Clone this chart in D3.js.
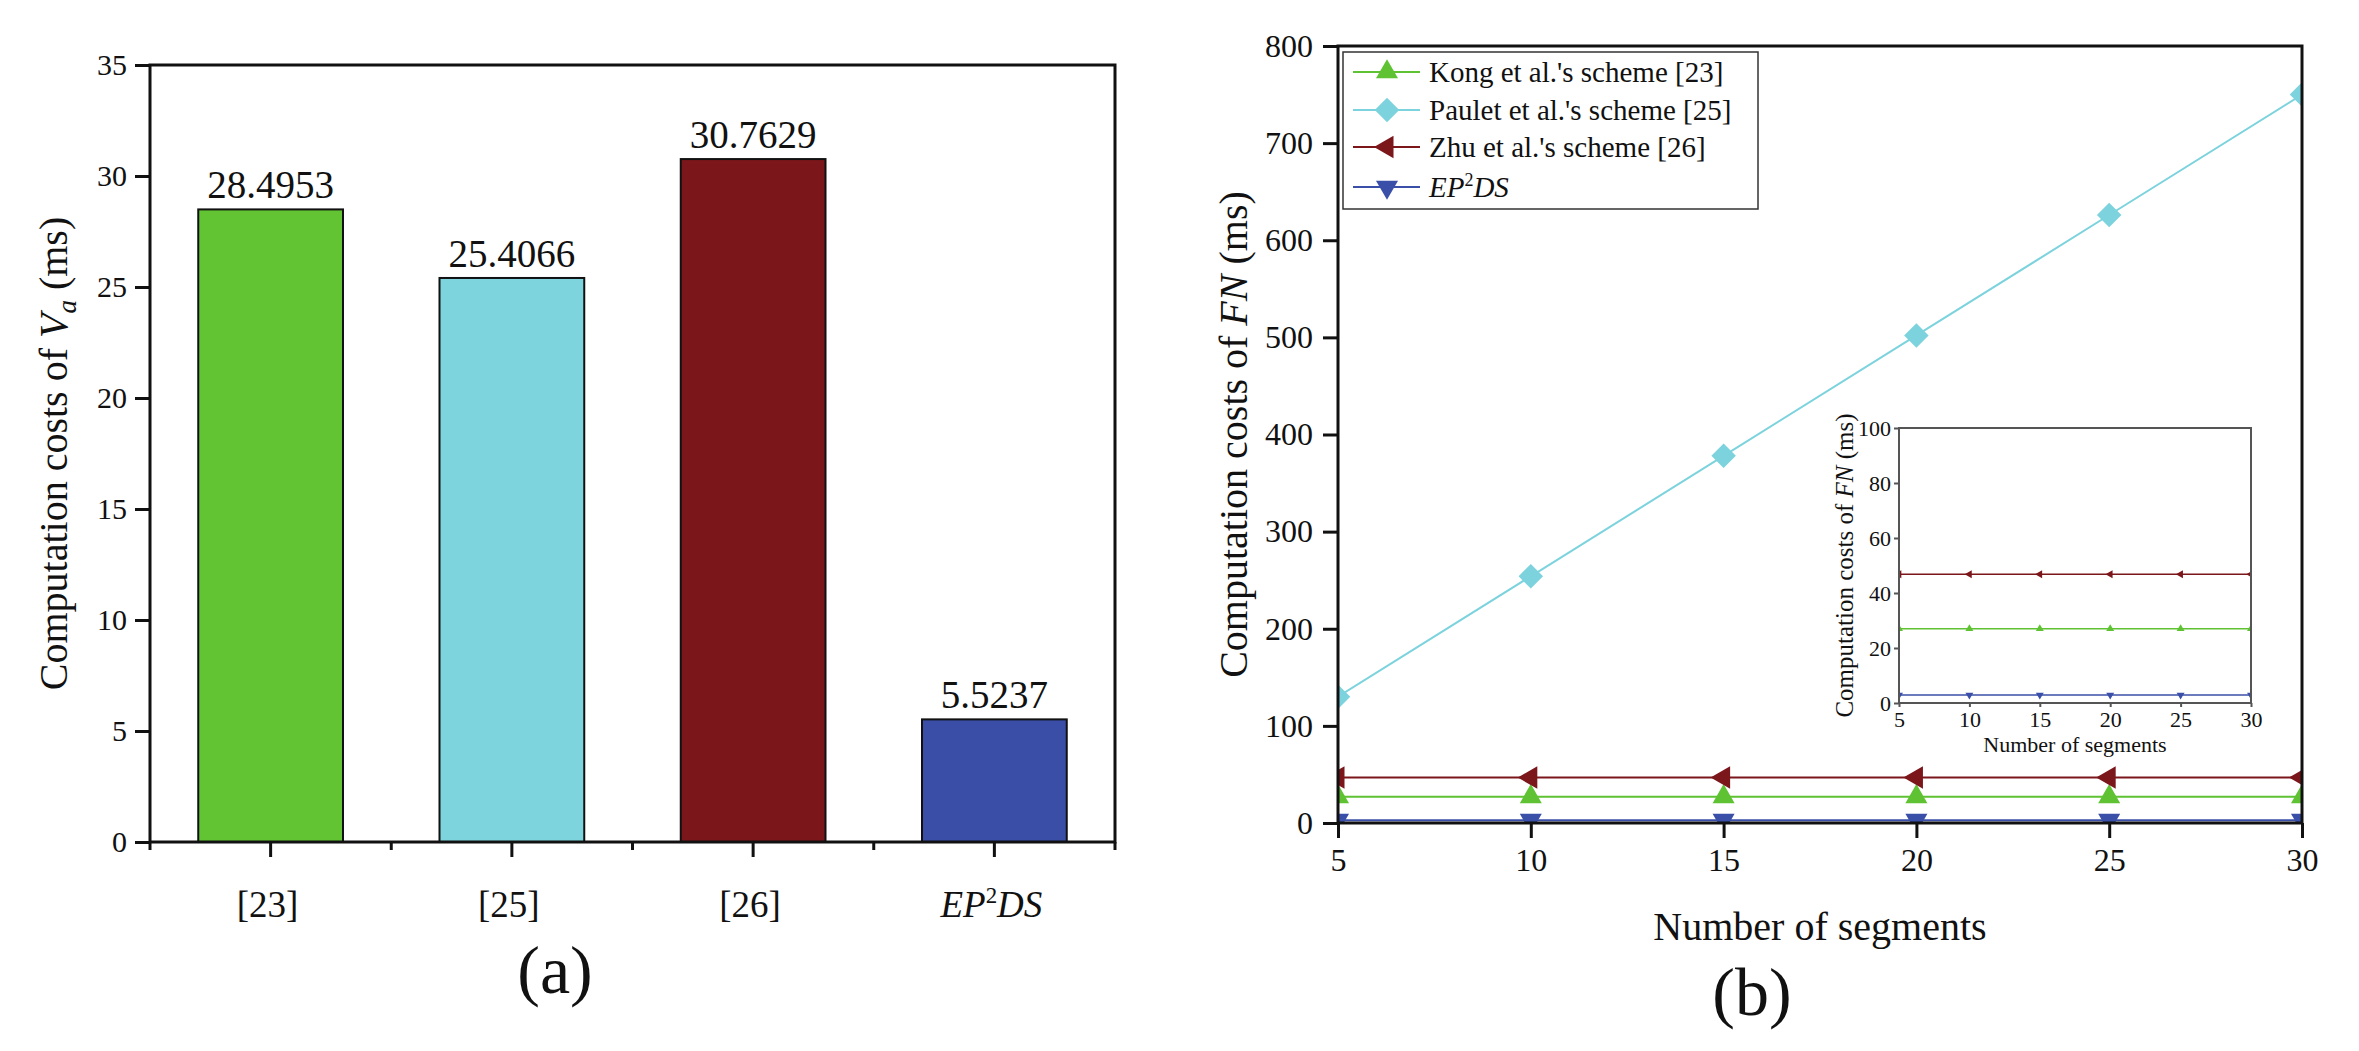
<!DOCTYPE html>
<html>
<head>
<meta charset="utf-8">
<script src="https://cdn.jsdelivr.net/npm/d3@7"></script>
<style>
  html, body { margin: 0; padding: 0; background: #fff; }
  svg { display: block; }
  svg text { font-family: "Liberation Serif", "Times New Roman", serif; fill: #111; }
</style>
</head>
<body>
<svg id="chart" width="2359" height="1051"></svg>
<script>
// ---------- data ----------
const barCategories = ["[23]", "[25]", "[26]", "EP2DS"];
const barValues = [28.4953, 25.4066, 30.7629, 5.5237];
const barLabels = ["28.4953", "25.4066", "30.7629", "5.5237"];
const barColors = ["#62c333", "#7dd4dc", "#7b161b", "#3a4ea8"];
const barYTicks = [0, 5, 10, 15, 20, 25, 30, 35];

const segments = [5, 10, 15, 20, 25, 30];
const kongCosts = [27.0, 27.0, 27.0, 27.0, 27.0, 27.0];
const pauletCosts = [130, 254, 378, 502, 626, 750];
const zhuCosts = [46.8, 46.8, 46.8, 46.8, 46.8, 46.8];
const ep2dsCosts = [2.9, 2.9, 2.9, 2.9, 2.9, 2.9];
const seriesNames = ["Kong et al.'s scheme [23]", "Paulet et al.'s scheme [25]", "Zhu et al.'s scheme [26]", "EP2DS"];
const seriesColors = ["#5ec232", "#7cd3dd", "#7b161b", "#3a4fa8"];
const lineYTicks = [0, 100, 200, 300, 400, 500, 600, 700, 800];
const lineXTicks = [5, 10, 15, 20, 25, 30];
const insetYTicks = [0, 20, 40, 60, 80, 100];

const seriesValues = [kongCosts, pauletCosts, zhuCosts, ep2dsCosts];

const svg = d3.select("#chart");
const FONT = '"Liberation Serif", "Times New Roman", serif';

function symbolPath(kind, scale) {
  const s = scale || 1;
  if (kind === "up") return { d: d3.symbol(d3.symbolTriangle, 210 * s * s)(), rot: 0 };
  if (kind === "diamond") return { d: d3.symbol(d3.symbolSquare, 300 * s * s)(), rot: 45 };
  if (kind === "left") return { d: d3.symbol(d3.symbolTriangle, 220 * s * s)(), rot: -90 };
  return { d: d3.symbol(d3.symbolTriangle, 210 * s * s)(), rot: 180 };
}
const seriesSymbols = ["up", "diamond", "left", "down"];

function ep2ds(sel, size) {
  sel.append("tspan").attr("font-style", "italic").text("EP");
  sel.append("tspan").attr("font-size", size * 0.62).attr("dy", -size * 0.38).text("2");
  sel.append("tspan").attr("font-style", "italic").attr("dy", size * 0.38).text("DS");
}

// ================= (a) bar chart =================
{
  const L = 150, R = 1115, T = 65, B = 842;
  const x = d3.scaleBand().domain(barCategories).range([L, R]).paddingInner(0.4).paddingOuter(0.2);
  const y = d3.scaleLinear().domain([0, 35]).range([B, T]);
  const g = svg.append("g").attr("font-family", FONT);

  g.selectAll("rect.bar").data(barValues).enter().append("rect")
    .attr("class", "bar")
    .attr("x", (d, i) => x(barCategories[i]))
    .attr("y", d => y(d))
    .attr("width", x.bandwidth())
    .attr("height", d => y(0) - y(d))
    .attr("fill", (d, i) => barColors[i])
    .attr("stroke", "#111").attr("stroke-width", 2);

  g.selectAll("text.val").data(barValues).enter().append("text")
    .attr("class", "val")
    .attr("x", (d, i) => x(barCategories[i]) + x.bandwidth() / 2)
    .attr("y", d => y(d) - 11)
    .attr("text-anchor", "middle")
    .attr("font-size", 39)
    .text((d, i) => barLabels[i]);

  const ya = g.append("g").attr("transform", `translate(${L},0)`)
    .call(d3.axisLeft(y).tickValues(barYTicks).tickSize(15).tickPadding(8).tickFormat(d3.format("d")));
  ya.attr("font-family", FONT);
  ya.select(".domain").remove();
  ya.selectAll(".tick line").attr("stroke", "#111").attr("stroke-width", 3);
  ya.selectAll(".tick text").attr("font-size", 30).attr("font-family", FONT).attr("fill", "#111");

  const xa = g.append("g").attr("transform", `translate(0,${B})`)
    .call(d3.axisBottom(x).tickSize(15).tickPadding(34).tickFormat(""));
  xa.select(".domain").remove();
  xa.selectAll(".tick line").attr("stroke", "#111").attr("stroke-width", 3);
  const step = x.step();
  const bounds = barCategories.map(c => x(c) + x.bandwidth() / 2 - step / 2)
    .concat([x(barCategories[barCategories.length - 1]) + x.bandwidth() / 2 + step / 2]);
  g.selectAll("line.minor").data(bounds).enter().append("line")
    .attr("x1", d => d).attr("x2", d => d).attr("y1", B).attr("y2", B + 8)
    .attr("stroke", "#111").attr("stroke-width", 3);

  barCategories.forEach((c, i) => {
    const t = g.append("text")
      .attr("x", x(c) + x.bandwidth() / 2 - 3)
      .attr("y", 917)
      .attr("text-anchor", "middle")
      .attr("font-size", 37);
    if (c === "EP2DS") ep2ds(t, 37); else t.text(c);
  });

  g.append("rect").attr("x", L).attr("y", T).attr("width", R - L).attr("height", B - T)
    .attr("fill", "none").attr("stroke", "#111").attr("stroke-width", 3);

  const yt = g.append("text")
    .attr("transform", `translate(67,${(T + B) / 2}) rotate(-90)`)
    .attr("text-anchor", "middle").attr("font-size", 40);
  yt.append("tspan").text("Computation costs of ");
  yt.append("tspan").attr("font-style", "italic").text("V");
  yt.append("tspan").attr("font-style", "italic").attr("font-size", 27).attr("dy", 9).text("a");
  yt.append("tspan").attr("dy", -9).text(" (ms)");

  g.append("text").attr("x", 555).attr("y", 993).attr("text-anchor", "middle")
    .attr("font-size", 68).text("(a)");
}

// ================= (b) line chart =================
{
  const L = 1338, R = 2302, T = 46, B = 823;
  const x = d3.scaleLinear().domain([5, 30]).range([L, R]);
  const y = d3.scaleLinear().domain([0, 800]).range([B, T]);
  const g = svg.append("g").attr("font-family", FONT);

  const defs = svg.append("defs");
  defs.append("clipPath").attr("id", "clipMain").append("rect")
    .attr("x", L).attr("y", T).attr("width", R - L).attr("height", B - T);

  const plot = g.append("g").attr("clip-path", "url(#clipMain)");
  const line = d3.line().x((d, i) => x(segments[i])).y(d => y(d));

  seriesValues.forEach((vals, si) => {
    plot.append("path").attr("d", line(vals))
      .attr("fill", "none").attr("stroke", seriesColors[si]).attr("stroke-width", 2);
  });
  seriesValues.forEach((vals, si) => {
    const sym = symbolPath(seriesSymbols[si], 1);
    plot.selectAll(null).data(vals).enter().append("path")
      .attr("d", sym.d)
      .attr("transform", (d, i) => `translate(${x(segments[i])},${y(d)}) rotate(${sym.rot})`)
      .attr("fill", seriesColors[si]);
  });

  const ya = g.append("g").attr("transform", `translate(${L},0)`)
    .call(d3.axisLeft(y).tickValues(lineYTicks).tickSize(15).tickPadding(10).tickFormat(d3.format("d")));
  ya.attr("font-family", FONT);
  ya.select(".domain").remove();
  ya.selectAll(".tick line").attr("stroke", "#111").attr("stroke-width", 3);
  ya.selectAll(".tick text").attr("font-size", 32).attr("font-family", FONT).attr("fill", "#111");

  const xa = g.append("g").attr("transform", `translate(0,${B})`)
    .call(d3.axisBottom(x).tickValues(lineXTicks).tickSize(15).tickPadding(10).tickFormat(d3.format("d")));
  xa.attr("font-family", FONT);
  xa.select(".domain").remove();
  xa.selectAll(".tick line").attr("stroke", "#111").attr("stroke-width", 3);
  xa.selectAll(".tick text").attr("font-size", 32).attr("font-family", FONT).attr("fill", "#111");

  g.append("rect").attr("x", L).attr("y", T).attr("width", R - L).attr("height", B - T)
    .attr("fill", "none").attr("stroke", "#111").attr("stroke-width", 3);

  const yt = g.append("text")
    .attr("transform", `translate(1247,${(T + B) / 2}) rotate(-90)`)
    .attr("text-anchor", "middle").attr("font-size", 40);
  yt.append("tspan").text("Computation costs of ");
  yt.append("tspan").attr("font-style", "italic").text("FN");
  yt.append("tspan").text(" (ms)");

  g.append("text").attr("x", (L + R) / 2).attr("y", 940).attr("text-anchor", "middle")
    .attr("font-size", 40).text("Number of segments");

  g.append("text").attr("x", 1752).attr("y", 1015).attr("text-anchor", "middle")
    .attr("font-size", 68).text("(b)");

  const lg = g.append("g");
  lg.append("rect").attr("x", 1343).attr("y", 52).attr("width", 415).attr("height", 157)
    .attr("fill", "#fff").attr("stroke", "#333").attr("stroke-width", 1.5);
  const rowY = [72, 110, 147, 187];
  seriesNames.forEach((name, si) => {
    const yy = rowY[si];
    lg.append("line").attr("x1", 1353).attr("x2", 1420).attr("y1", yy).attr("y2", yy)
      .attr("stroke", seriesColors[si]).attr("stroke-width", 2);
    const sym = symbolPath(seriesSymbols[si], 1);
    lg.append("path").attr("d", sym.d)
      .attr("transform", `translate(1387,${yy}) rotate(${sym.rot})`)
      .attr("fill", seriesColors[si]);
    const t = lg.append("text").attr("x", 1429).attr("y", yy + 10).attr("font-size", 29);
    if (name === "EP2DS") ep2ds(t, 29); else t.text(name);
  });

  // inset
  const iL = 1899, iR = 2251, iT = 428, iB = 703;
  const ix = d3.scaleLinear().domain([5, 30]).range([iL, iR]);
  const iy = d3.scaleLinear().domain([0, 100]).range([iB, iT]);
  const ig = svg.append("g").attr("font-family", FONT);
  ig.append("rect").attr("x", iL).attr("y", iT).attr("width", iR - iL).attr("height", iB - iT)
    .attr("fill", "#fff");
  defs.append("clipPath").attr("id", "clipInset").append("rect")
    .attr("x", iL).attr("y", iT).attr("width", iR - iL).attr("height", iB - iT);
  const iplot = ig.append("g").attr("clip-path", "url(#clipInset)");
  const iline = d3.line().x((d, i) => ix(segments[i])).y(d => iy(d));
  [0, 2, 3].forEach(si => {
    const vals = seriesValues[si];
    iplot.append("path").attr("d", iline(vals))
      .attr("fill", "none").attr("stroke", seriesColors[si]).attr("stroke-width", 1.6);
    const sym = symbolPath(seriesSymbols[si], 0.36);
    iplot.selectAll(null).data(vals).enter().append("path")
      .attr("d", sym.d)
      .attr("transform", (d, i) => `translate(${ix(segments[i])},${iy(d)}) rotate(${sym.rot})`)
      .attr("fill", seriesColors[si]);
  });
  const iya = ig.append("g").attr("transform", `translate(${iL},0)`)
    .call(d3.axisLeft(iy).tickValues(insetYTicks).tickSize(5).tickPadding(3).tickFormat(d3.format("d")));
  iya.attr("font-family", FONT);
  iya.select(".domain").remove();
  iya.selectAll(".tick line").attr("stroke", "#555").attr("stroke-width", 2);
  iya.selectAll(".tick text").attr("font-size", 22).attr("font-family", FONT).attr("fill", "#111");
  const ixa = ig.append("g").attr("transform", `translate(0,${iB})`)
    .call(d3.axisBottom(ix).tickValues(lineXTicks).tickSize(4).tickPadding(4).tickFormat(d3.format("d")));
  ixa.attr("font-family", FONT);
  ixa.select(".domain").remove();
  ixa.selectAll(".tick line").attr("stroke", "#555").attr("stroke-width", 2);
  ixa.selectAll(".tick text").attr("font-size", 22).attr("font-family", FONT).attr("fill", "#111");
  ig.append("rect").attr("x", iL).attr("y", iT).attr("width", iR - iL).attr("height", iB - iT)
    .attr("fill", "none").attr("stroke", "#555").attr("stroke-width", 2);
  const iyt = ig.append("text")
    .attr("transform", `translate(1853,${(iT + iB) / 2}) rotate(-90)`)
    .attr("text-anchor", "middle").attr("font-size", 25);
  iyt.append("tspan").text("Computation costs of ");
  iyt.append("tspan").attr("font-style", "italic").text("FN");
  iyt.append("tspan").text(" (ms)");
  ig.append("text").attr("x", (iL + iR) / 2).attr("y", 752).attr("text-anchor", "middle")
    .attr("font-size", 22).text("Number of segments");
}
</script>
</body>
</html>
